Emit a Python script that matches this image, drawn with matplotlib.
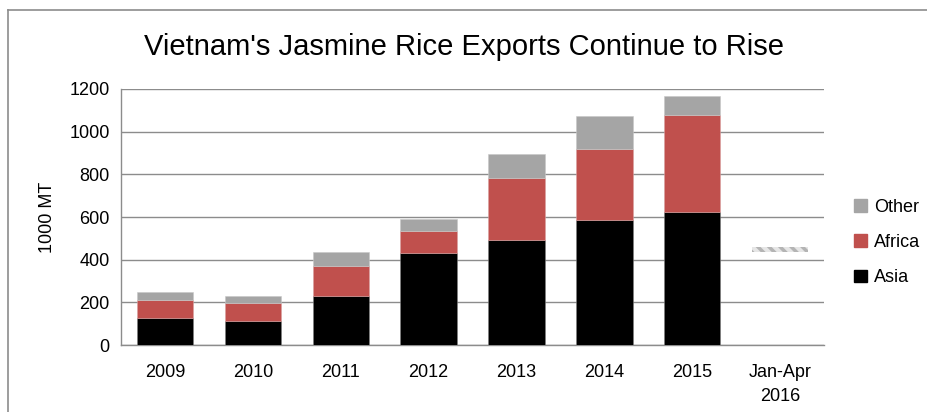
import matplotlib.pyplot as plt
from matplotlib.patches import Patch
from matplotlib.lines import Line2D
import numpy as np

# Data (1000 MT)
years = ["2009", "2010", "2011", "2012", "2013", "2014", "2015", "Jan-Apr\n2016"]
asia = [127, 114, 230, 431, 491, 585, 625]
africa = [84, 84, 142, 104, 294, 336, 455]
other = [38, 30, 63, 55, 112, 154, 85]
ytd_2016_base = 435
ytd_2016_height = 25

c_asia = "#000000"
c_africa = "#C0504D"
c_other = "#A5A5A5"

plt.rcParams['font.family'] = ['Liberation Sans', 'DejaVu Sans']
plt.rcParams['hatch.linewidth'] = 2.5

fig = plt.figure(figsize=(9.27, 4.12), dpi=100)
ax = fig.add_axes([0.1305, 0.1626, 0.7585, 0.6214])

x = np.arange(len(years))
xs = x[:len(asia)]
w = 0.64
bottom2 = np.array(asia) + np.array(africa)
ax.bar(xs, asia, w, color=c_asia, edgecolor="#7F7F7F", linewidth=0.4, zorder=3)
ax.bar(xs, africa, w, bottom=asia, color=c_africa, edgecolor="#D9A0A0", linewidth=0.4, zorder=3)
ax.bar(xs, other, w, bottom=bottom2, color=c_other, edgecolor="#C8C8C8", linewidth=0.4, zorder=3)

# partial year shown as hatched bar
ax.bar(x[-1], ytd_2016_height, w, bottom=ytd_2016_base, facecolor="#E6E6E6",
       edgecolor="#B4B4B4", hatch="\\\\\\", linewidth=0, zorder=3)

ax.set_xlim(-0.5, len(years) - 0.5)
ax.set_ylim(0, 1200)
ax.set_yticks(range(0, 1201, 200))
ax.set_xticks(x)
ax.set_xticklabels(years, linespacing=1.5)
ax.tick_params(length=0, labelsize=13, pad=8)
ax.tick_params(axis='x', pad=14)
ax.yaxis.grid(True, color="#8C8C8C", linewidth=1, zorder=0)
for s in ["right", "top"]:
    ax.spines[s].set_visible(False)
for s in ["left", "bottom"]:
    ax.spines[s].set_color("#8C8C8C")
    ax.spines[s].set_linewidth(1)
ax.set_ylabel("1000 MT", fontsize=13, labelpad=10)

fig.text(0.5, 0.885, "Vietnam's Jasmine Rice Exports Continue to Rise",
         ha="center", va="center", fontsize=21)

handles = [Patch(color=c_other), Patch(color=c_africa), Patch(color=c_asia)]
ax.legend(handles, ["Other", "Africa", "Asia"], loc="center left",
          bbox_to_anchor=(1.02, 0.40), frameon=False, fontsize=13,
          handlelength=0.7, handleheight=0.7, handletextpad=0.4,
          labelspacing=1.0)

# outer chart border (top and left edges visible)
fig.add_artist(Line2D([8 / 927, 1], [1 - 10 / 412, 1 - 10 / 412],
                      transform=fig.transFigure, color="#8C8C8C", linewidth=1.2))
fig.add_artist(Line2D([8 / 927, 8 / 927], [0, 1 - 10 / 412],
                      transform=fig.transFigure, color="#8C8C8C", linewidth=1.2))

fig.savefig("out.png", dpi=100)
